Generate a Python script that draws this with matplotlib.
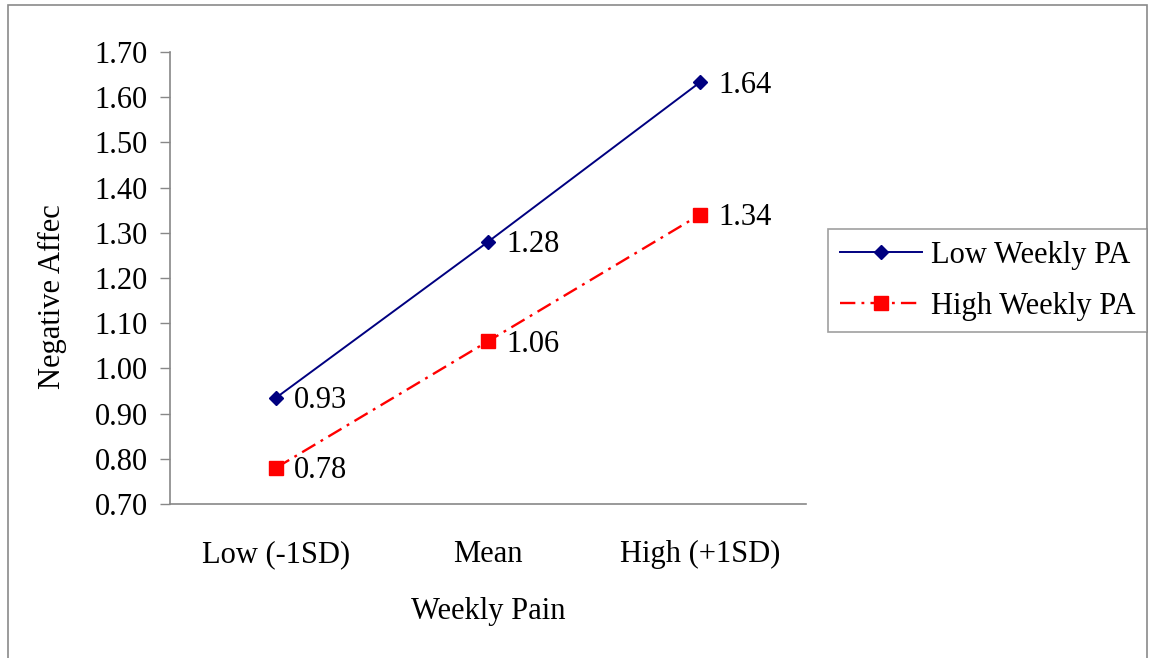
import matplotlib
matplotlib.use("Agg")
import matplotlib.pyplot as plt
from matplotlib.patches import Rectangle

categories = ["Low (-1SD)", "Mean", "High (+1SD)"]
low_pa = [0.935, 1.28, 1.633]
high_pa = [0.78, 1.06, 1.34]
low_labels = ["0.93", "1.28", "1.64"]
high_labels = ["0.78", "1.06", "1.34"]
yticks = [0.70, 0.80, 0.90, 1.00, 1.10, 1.20, 1.30, 1.40, 1.50, 1.60, 1.70]
series_names = ["Low Weekly PA", "High Weekly PA"]

plt.rcParams['font.family'] = ['Liberation Serif', 'DejaVu Serif']
FS = 22

W, H = 1149, 658
fig = plt.figure(figsize=(W / 100, H / 100), dpi=100)
fig.patch.set_facecolor("white")

# outer chart border
fig.patches.append(Rectangle((8 / W, -0.05), (1147 - 8) / W, 1.05 - 5 / H,
                             transform=fig.transFigure, fill=False,
                             edgecolor="#8a8a8a", linewidth=1.2, zorder=0))

ax = fig.add_axes([170 / W, (H - 504) / H, (806 - 170) / W, (504 - 52) / H])
x = list(range(len(categories)))

ax.plot(x, low_pa, color="#000080", linewidth=1.4, marker="D", markersize=7.5,
        label=series_names[0], zorder=3)
ax.plot(x, high_pa, color="#FF0000", linewidth=1.7,
        linestyle=(0, (6.5, 2.6, 1.2, 2.6)), marker="s", markersize=9.5,
        label=series_names[1], zorder=3)

for xi, yi, t in zip(x, low_pa, low_labels):
    ax.annotate(t, (xi, yi), xytext=(13, -2), textcoords="offset points",
                ha="left", va="center", fontsize=FS)
for xi, yi, t in zip(x, high_pa, high_labels):
    ax.annotate(t, (xi, yi), xytext=(13, -2), textcoords="offset points",
                ha="left", va="center", fontsize=FS)

ax.set_xlim(-0.5, 2.5)
ax.set_ylim(0.70, 1.70)
ax.set_yticks(yticks)
ax.set_yticklabels([f"{v:.2f}" for v in yticks], fontsize=FS)
ax.set_xticks(x)
ax.set_xticklabels(categories, fontsize=FS)
ax.tick_params(axis="x", length=0, pad=26)
ax.tick_params(axis="y", length=7.2, width=1.0, color="#888888", direction="out", pad=9)

for s in ["top", "right"]:
    ax.spines[s].set_visible(False)
for s in ["left", "bottom"]:
    ax.spines[s].set_color("#888888")
    ax.spines[s].set_linewidth(1.2)

ax.set_ylabel("Negative Affec", fontsize=FS)
ax.yaxis.set_label_coords((52 - 170) / 636, (504 - 297) / 452)
ax.set_xlabel("Weekly Pain", fontsize=FS)
ax.xaxis.set_label_coords(0.5, (504 - 611) / 452)
ax.xaxis.label.set_va("center")
ax.yaxis.label.set_va("center")

leg = fig.legend(loc="upper left", bbox_to_anchor=(828 / W, 1 - 229 / H),
                 frameon=True, fancybox=False, fontsize=FS, handlelength=2.7,
                 handletextpad=0.3, borderpad=0.38, labelspacing=0.72,
                 borderaxespad=0)
leg.get_frame().set_edgecolor("#888888")
leg.get_frame().set_linewidth(1.2)

fig.savefig("out.png", dpi=100, facecolor="white")
